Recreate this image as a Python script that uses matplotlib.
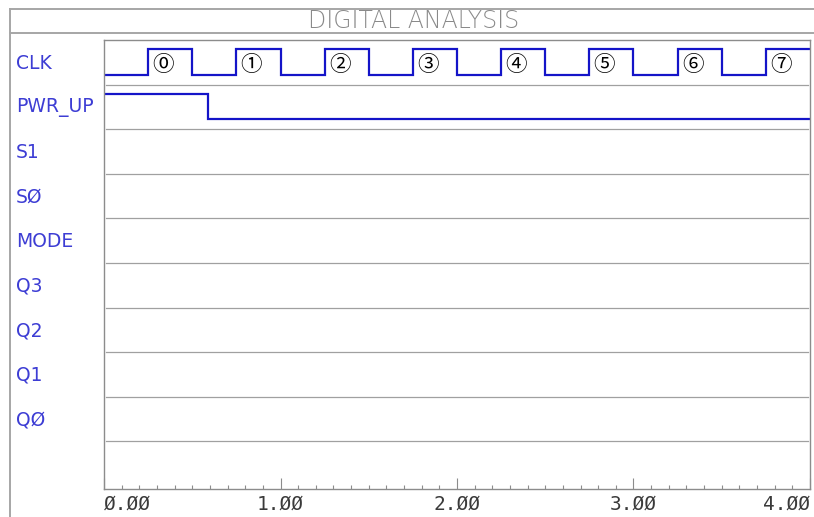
import matplotlib
matplotlib.use("Agg")
import matplotlib.pyplot as plt
from matplotlib.lines import Line2D
from matplotlib.ticker import MultipleLocator, FixedLocator
from matplotlib.transforms import blended_transform_factory

# ---- data ----
signal_names = ["CLK", "PWR_UP", "S1", "SØ", "MODE", "Q3", "Q2", "Q1", "QØ"]

clk_times = [0.0, 0.25, 0.50, 0.75, 1.00, 1.25, 1.50, 1.75, 2.00,
             2.25, 2.50, 2.75, 3.00, 3.25, 3.50, 3.75, 4.00]
clk_values = [0, 1, 0, 1, 0, 1, 0, 1, 0, 1, 0, 1, 0, 1, 0, 1, 1]
clk_cycle_labels = ["⓪", "①", "②", "③", "④", "⑤", "⑥", "⑦"]
clk_cycle_starts = [0.25, 0.75, 1.25, 1.75, 2.25, 2.75, 3.25, 3.75]

pwr_times = [0.0, 0.59, 4.00]
pwr_values = [1, 0, 0]

x_tick_values = [0, 1, 2, 3, 4]
x_tick_labels = ["Ø.ØØ", "1.ØØ", "2.ØØ", "3.ØØ", "4.ØØ"]

title = "DIGITAL ANALYSIS"

# ---- styling ----
W, H, DPI = 814, 517, 100
fig = plt.figure(figsize=(W / DPI, H / DPI), dpi=DPI)
fig.patch.set_facecolor("white")

ax_left, ax_right = 104 / W, 810 / W
ax_top, ax_bottom = 1 - 40 / H, 1 - 489 / H
ax = fig.add_axes([ax_left, ax_bottom, ax_right - ax_left, ax_top - ax_bottom])

n_rows = len(signal_names)
ax.set_xlim(0, 4.0)
ax.set_ylim(10.07, 0)

HIGH = 0.20
LOW = 0.78
sig_color = "#1414c8"
label_color = "#3d3dd4"
gray = "#8c8c8c"


def level(row, vals):
    return [row + LOW - v * (LOW - HIGH) for v in vals]


ax.plot(clk_times, level(0, clk_values), drawstyle="steps-post",
        color=sig_color, lw=1.6, solid_joinstyle="miter")
ax.plot(pwr_times, level(1, pwr_values), drawstyle="steps-post",
        color=sig_color, lw=1.6, solid_joinstyle="miter")

for lab, t0 in zip(clk_cycle_labels, clk_cycle_starts):
    ax.text(t0 + 0.085, 0.57, lab, ha="center", va="center", fontsize=15.5,
            color="black", family=["Noto Sans CJK JP", "DejaVu Sans"])

# row separators
for r in range(1, n_rows + 1):
    ax.plot([0.012, 3.99], [r, r], color="#a0a0a0", lw=0.9)

# signal labels
tr = blended_transform_factory(fig.transFigure, ax.transData)
for i, name in enumerate(signal_names):
    ax.text(16 / W, i + 0.52, name, transform=tr, ha="left", va="center",
            fontsize=13.5, color=label_color, family="DejaVu Sans")

# spines & ticks
for s in ax.spines.values():
    s.set_color(gray)
    s.set_linewidth(1.0)
ax.yaxis.set_visible(False)
ax.xaxis.set_major_locator(FixedLocator(x_tick_values))
ax.xaxis.set_minor_locator(MultipleLocator(0.1))
ax.set_xticklabels(x_tick_labels, family="DejaVu Sans Mono", fontsize=14,
                   color="#3a3a3a")
ax.tick_params(axis="x", which="major", direction="in", length=8,
               width=0.8, color=gray, pad=4)
ax.tick_params(axis="x", which="minor", direction="in", length=3,
               width=0.8, color=gray)
labels = ax.get_xticklabels()
labels[0].set_ha("left")
labels[-1].set_ha("right")

# outer frame & title
frame_color = "#a6a6a6"
fig.add_artist(Line2D([10 / W, 10 / W], [1 - 8.5 / H, 0], transform=fig.transFigure,
                      color=frame_color, lw=1.4))
fig.add_artist(Line2D([10 / W, 1], [1 - 8.5 / H, 1 - 8.5 / H], transform=fig.transFigure,
                      color=frame_color, lw=1.4))
fig.add_artist(Line2D([10 / W, 1], [1 - 33 / H, 1 - 33 / H], transform=fig.transFigure,
                      color=frame_color, lw=1.4))
fig.text(414 / W, 1 - 21 / H, title, ha="center", va="center", fontsize=17,
         color="#8a8a8a", family="DejaVu Sans", fontweight="light")

fig.savefig("out.png", dpi=DPI)
